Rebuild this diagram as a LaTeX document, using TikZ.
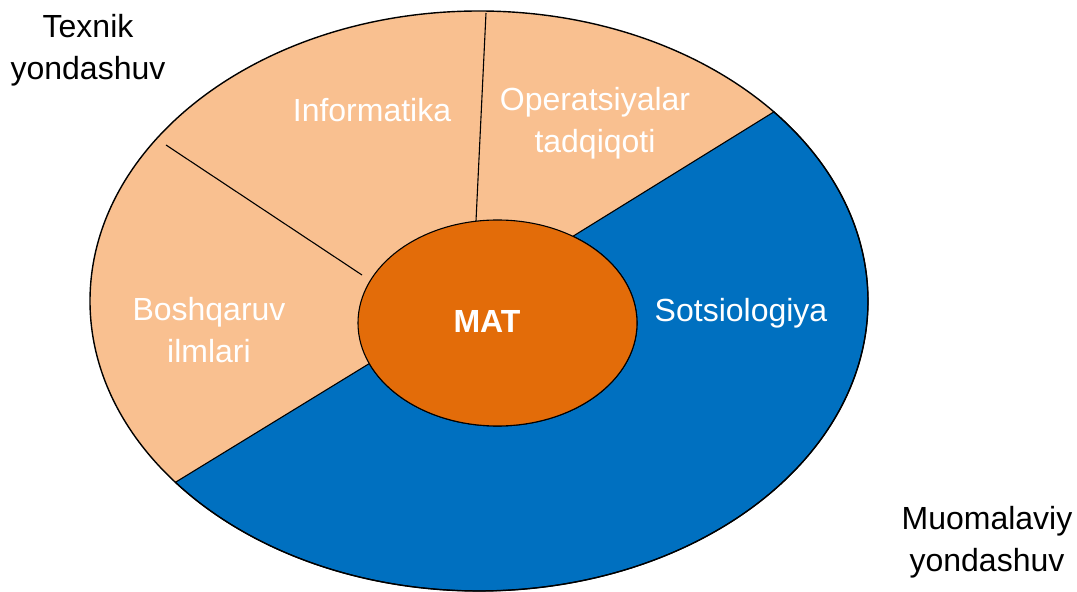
\documentclass[tikz,border=0pt]{standalone}
\usepackage{fontspec}
\setmainfont{Liberation Sans}
\definecolor{peach}{HTML}{F9C090}
\definecolor{socblue}{HTML}{0070C0}
\definecolor{coreorange}{HTML}{E36C09}
\begin{document}
\begin{tikzpicture}[x=1pt, y=1pt,
  lbl/.style={align=center, inner sep=0pt, anchor=base,
    font=\fontsize{32}{42}\selectfont},
  wlbl/.style={lbl, text=white}]
  \useasboundingbox (0,0) rectangle (1077,592);
  \coordinate (outer) at (479,291);
  \coordinate (inner) at (497.5,269);
  \path (outer) ++(40.7:389 and 290) coordinate (o3);
  \path (outer) ++(218.7:389 and 290) coordinate (o4);
  \path (inner) ++(57.3:139.5 and 103) coordinate (i3);
  \path (inner) ++(203.2:139.5 and 103) coordinate (i4);
  \fill[peach] (outer) ellipse[x radius=389, y radius=290];
  \draw[line width=1.1pt, fill=socblue] (o4)
    arc[start angle=218.7, end angle=400.7, x radius=389, y radius=290]
    -- (i3)
    arc[start angle=57.3, end angle=-156.8, x radius=139.5, y radius=103]
    -- cycle;
  \draw[line width=1.1pt] (166,447) -- (362,317);
  \draw[line width=1.1pt] (486,579) -- (476,371);
  \draw[line width=1.1pt, fill=coreorange] (inner) ellipse[x radius=139.5, y radius=103];
  \draw[line width=1.4pt] (outer) ellipse[x radius=389, y radius=290];
  % last line baselines
  \node[lbl] (tech) at (88,512) {Texnik\\yondashuv};
  \node[wlbl] (inf) at (372,470) {Informatika};
  \node[wlbl] (opr) at (595,439) {Operatsiyalar\\tadqiqoti};
  \node[wlbl] (bosh) at (209,229) {Boshqaruv\\ilmlari};
  \node[wlbl, font=\fontsize{32}{42}\selectfont\bfseries] (mat) at (487,259) {MAT};
  \node[wlbl] (soc) at (741,270) {Sotsiologiya};
  \node[lbl] (muom) at (987,20) {Muomalaviy\\yondashuv};
\end{tikzpicture}
\end{document}
